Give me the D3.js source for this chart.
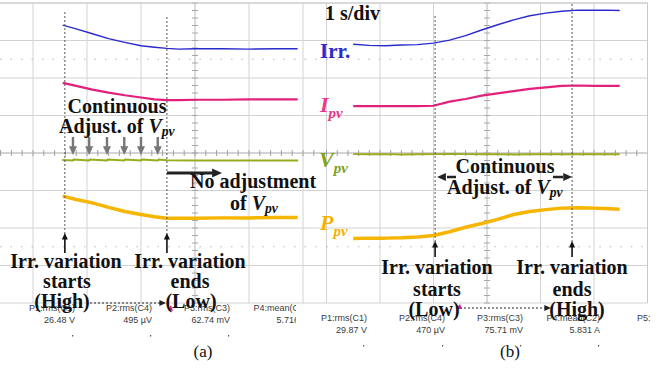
<!DOCTYPE html>
<html><head><meta charset="utf-8">
<script src="https://cdn.jsdelivr.net/npm/d3@7"></script>
<style>html,body{margin:0;padding:0;background:#fff;}svg{display:block;}</style>
</head><body><svg id="c" width="665" height="370"></svg>
<script>
// ---- data (time in s, 1 s/div; trace values in screen divisions) ----
const tA   = [-2.45,-2.2,-1.9,-1.6,-1.3,-1.0,-0.75,-0.52,-0.3,0,0.5,1.0,1.5,1.9];
const irrA = [3.41,3.31,3.18,3.05,2.95,2.86,2.82,2.79,2.77,2.78,2.78,2.77,2.78,2.78];
const ipvA = [1.87,1.79,1.69,1.61,1.54,1.48,1.43,1.41,1.41,1.42,1.42,1.43,1.43,1.43];
const ppvA = [-1.15,-1.24,-1.33,-1.45,-1.56,-1.64,-1.70,-1.74,-1.74,-1.74,-1.73,-1.73,-1.72,-1.72];
const tVA  = [-2.46,-2.26,-2.25,-1.96,-1.95,-1.63,-1.62,-1.31,-1.30,-1.00,-0.99,-0.69,-0.68,-0.52,0,0.5,1.0,1.5,1.91];
const vpvA = [-0.187,-0.203,-0.171,-0.203,-0.171,-0.203,-0.171,-0.203,-0.171,-0.203,-0.171,-0.203,-0.176,-0.195,-0.203,-0.2,-0.203,-0.197,-0.2];

const tB   = [-2.5,-2.2,-1.9,-1.6,-1.3,-1.0,-0.7,-0.4,-0.1,0.2,0.5,0.8,1.1,1.4,1.7,2.0,2.2,2.48];
const irrB = [2.90,2.87,2.86,2.88,2.89,2.93,3.01,3.13,3.28,3.42,3.55,3.66,3.73,3.78,3.81,3.81,3.81,3.80];
const ipvB = [1.25,1.25,1.25,1.25,1.25,1.26,1.37,1.44,1.53,1.59,1.65,1.71,1.75,1.79,1.80,1.79,1.79,1.79];
const vpvB = [-0.03,-0.035,-0.03,-0.04,-0.035,-0.03,-0.025,-0.03,-0.035,-0.03,-0.04,-0.035,-0.03,-0.035,-0.03,-0.035,-0.03,-0.035];
const ppvB = [-2.28,-2.27,-2.27,-2.26,-2.24,-2.20,-2.10,-1.98,-1.88,-1.77,-1.64,-1.56,-1.51,-1.47,-1.46,-1.47,-1.48,-1.50];

const eventsA = [-2.41,-0.52];
const eventsB = [-0.97,1.59];
const adjustMarksA = [-2.26,-1.96,-1.63,-1.31,-1.0,-0.69];

const measLabelsA = ["P1:rms(C1)","P2:rms(C4)","P3:rms(C3)","P4:mean(C2)"];
const measValuesA = ["26.48 V","495 µV","62.74 mV","5.716 A"];
const measLabelsB = ["P1:rms(C1)","P2:rms(C4)","P3:rms(C3)","P4:mean(C2)"];
const measValuesB = ["29.87 V","470 µV","75.71 mV","5.831 A"];

const seriesNames = ["Irr.","I","V","P"];
const colors = {irr:"#2a2acc", ipv:"#e2207c", vpv:"#9aab1d", ppv:"#f5b500"};

// ---- drawing ----
const svg = d3.select("#c");
const y = d3.scaleLinear().domain([-4,4]).range([303,3]);
const xA = d3.scaleLinear().domain([-5,5]).range([195-270,195+270]);
const xB = d3.scaleLinear().domain([-5,5]).range([487-267.5,487+267.5]);

const defs = svg.append("defs");
defs.append("clipPath").attr("id","clipA").append("rect").attr("x",0).attr("y",0).attr("width",321).attr("height",304);
defs.append("clipPath").attr("id","clipB").append("rect").attr("x",321).attr("y",0).attr("width",328).attr("height",304);
defs.append("clipPath").attr("id","clipMA").append("rect").attr("x",0).attr("y",300).attr("width",296).attr("height",50);

function grid(g, x, tmin, tmax){
  const gl = g.append("g");
  // horizontal lines
  d3.range(-4,5).forEach(v=>{
    gl.append("line").attr("x1",x(tmin)).attr("x2",x(tmax)).attr("y1",y(v)).attr("y2",y(v))
      .attr("stroke", v===0?"#a8a8a8":"#d2d2d2").attr("stroke-width",1);
  });
  // vertical lines
  d3.range(-5,6).forEach(t=>{
    gl.append("line").attr("x1",x(t)).attr("x2",x(t)).attr("y1",y(4)).attr("y2",y(-4))
      .attr("stroke", t===0?"#b8b8b8":"#d2d2d2").attr("stroke-width",1);
  });
  // dotted rows at +-2.5 div
  [2.5,-2.5].forEach(v=>{
    gl.append("line").attr("x1",x(tmin)).attr("x2",x(tmax)).attr("y1",y(v)).attr("y2",y(v))
      .attr("stroke","#b8b8b8").attr("stroke-width",1).attr("stroke-dasharray","1.5,9");
  });
  // minor ticks on centre lines
  d3.range(tmin*5, tmax*5+1).forEach(i=>{
    const t=i/5;
    gl.append("line").attr("x1",x(t)).attr("x2",x(t)).attr("y1",y(0)-3).attr("y2",y(0)+3).attr("stroke","#a0a0a0");
  });
  d3.range(-20,21).forEach(i=>{
    const v=i/5;
    gl.append("line").attr("x1",x(0)-3).attr("x2",x(0)+3).attr("y1",y(v)).attr("y2",y(v)).attr("stroke","#a8a8a8");
  });
}

const gA = svg.append("g").attr("clip-path","url(#clipA)");
const gB = svg.append("g").attr("clip-path","url(#clipB)");
grid(gA, xA, -4, 2.4);
grid(gB, xB, -3.2, 3);
// borders
svg.append("line").attr("x1",0).attr("x2",xB(3)).attr("y1",y(4)).attr("y2",y(4)).attr("stroke","#c8c8c8");
svg.append("line").attr("x1",xB(3)).attr("x2",xB(3)).attr("y1",y(4)).attr("y2",y(-4)).attr("stroke","#c8c8c8");

function trace(g, x, ts, vs, color, w){
  const line = d3.line().x((d,i)=>x(ts[i])).y(d=>y(d)).curve(d3.curveLinear);
  g.append("path").datum(vs).attr("d",line).attr("fill","none").attr("stroke",color)
   .attr("stroke-width",w).attr("stroke-linejoin","round");
}

// event dotted lines
function eventLine(x, t, top, bottom){
  svg.append("line").attr("x1",x(t)).attr("x2",x(t)).attr("y1",top).attr("y2",bottom)
    .attr("stroke","#555").attr("stroke-width",1).attr("stroke-dasharray","2,2");
}
eventLine(xA, eventsA[0], 12, 236);
eventLine(xA, eventsA[1], 17, 236);
eventLine(xB, eventsB[0], 16, 243);
eventLine(xB, eventsB[1], 4, 243);

trace(gA, xA, tA, irrA, colors.irr, 1.5);
trace(gA, xA, tA, ipvA, colors.ipv, 2.2);
trace(gA, xA, tVA, vpvA, colors.vpv, 2);
trace(gA, xA, tA, ppvA, colors.ppv, 3.5);
trace(gB, xB, tB, irrB, colors.irr, 1.5);
trace(gB, xB, tB, ipvB, colors.ipv, 2.2);
trace(gB, xB, tB, vpvB, colors.vpv, 2);
trace(gB, xB, tB, ppvB, colors.ppv, 3.5);

// arrows
function arrowHead(x, yv, dir, size, color){
  // dir: 'up','down','left','right'
  const s=size, h=size*1.1;
  let pts;
  if(dir==='up') pts=[[x,yv],[x-s/2,yv+h],[x+s/2,yv+h]];
  if(dir==='down') pts=[[x,yv],[x-s/2,yv-h],[x+s/2,yv-h]];
  if(dir==='right') pts=[[x,yv],[x-h,yv-s/2],[x-h,yv+s/2]];
  if(dir==='left') pts=[[x,yv],[x+h,yv-s/2],[x+h,yv+s/2]];
  svg.append("polygon").attr("points",pts.map(p=>p.join(",")).join(" ")).attr("fill",color);
}
function vArrowUp(x, tip, base){
  svg.append("line").attr("x1",x).attr("x2",x).attr("y1",tip+4).attr("y2",base).attr("stroke","#111").attr("stroke-width",1.6);
  arrowHead(x, tip, 'up', 6, "#111");
}
vArrowUp(xA(eventsA[0]), 233, 253);
vArrowUp(xA(eventsA[1]), 233, 253);
vArrowUp(xB(eventsB[0]), 241, 257);
vArrowUp(xB(eventsB[1]), 241, 257);

// gray adjustment arrows
adjustMarksA.forEach(t=>{
  svg.append("line").attr("x1",xA(t)).attr("x2",xA(t)).attr("y1",137).attr("y2",148).attr("stroke","#777").attr("stroke-width",2.4);
  arrowHead(xA(t), 155, 'down', 8, "#777");
});

// black horizontal arrows
svg.append("line").attr("x1",xA(eventsA[1])).attr("x2",213).attr("y1",173).attr("y2",173).attr("stroke","#222").attr("stroke-width",3);
arrowHead(222, 173, 'right', 9, "#222");
svg.append("line").attr("x1",447).attr("x2",456).attr("y1",177).attr("y2",177).attr("stroke","#222").attr("stroke-width",2.5);
arrowHead(xB(eventsB[0])+2, 177, 'left', 8, "#222");
svg.append("line").attr("x1",553).attr("x2",563).attr("y1",177).attr("y2",177).attr("stroke","#222").attr("stroke-width",2.5);
arrowHead(xB(eventsB[1]), 177, 'right', 8, "#222");

// dotted bottom arrows
svg.append("line").attr("x1",90).attr("x2",160).attr("y1",303).attr("y2",303).attr("stroke","#222").attr("stroke-width",1.2).attr("stroke-dasharray","2,2");
arrowHead(166, 303, 'right', 6, "#222");
svg.append("line").attr("x1",460).attr("x2",545).attr("y1",308).attr("y2",308).attr("stroke","#222").attr("stroke-width",1.2).attr("stroke-dasharray","2,2");
arrowHead(551, 308, 'right', 6, "#222");
// tiny pink markers
svg.append("polygon").attr("points","456,309 460,304 462,309").attr("fill","#e0207a");
svg.append("polygon").attr("points","168,310 171,305 173,311").attr("fill","#e0207a");

// measurement rows
const mA = svg.append("g").attr("clip-path","url(#clipMA)");
const colA = [75,152,230,307], colB=[367,445,523,600];
measLabelsA.forEach((l,i)=>{
  mA.append("text").attr("x",colA[i]).attr("y",311).attr("text-anchor","end").text(l);
  mA.append("text").attr("x",colA[i]).attr("y",323).attr("text-anchor","end").text(measValuesA[i]);
});
measLabelsB.forEach((l,i)=>{
  svg.append("text").attr("x",colB[i]).attr("y",321).attr("text-anchor","end").text(l);
  svg.append("text").attr("x",colB[i]).attr("y",333).attr("text-anchor","end").text(measValuesB[i]);
});
svg.append("text").attr("x",637).attr("y",321).text("P5:");
svg.selectAll("text").attr("font-family","Liberation Sans, Arial, sans-serif").attr("font-size",9).attr("fill","#3a3a3a");
mA.selectAll("text").attr("font-family","Liberation Sans, Arial, sans-serif").attr("font-size",9).attr("fill","#3a3a3a");
// tiny dots under values
[72,150,228].forEach(x=>svg.append("rect").attr("x",x).attr("y",335).attr("width",1.2).attr("height",1.5).attr("fill","#555"));
[363,442,520,598].forEach(x=>svg.append("rect").attr("x",x).attr("y",345).attr("width",1.2).attr("height",1.5).attr("fill","#555"));

// ---- annotation text ----
const SERIF = "Liberation Serif, Times New Roman, serif";
function txt(x, yv, str, opt={}){
  const t = svg.append("text").attr("x",x).attr("y",yv).attr("font-family",SERIF)
    .attr("font-size",opt.size||20).attr("font-weight",opt.weight||"bold")
    .attr("fill",opt.color||"#111").attr("text-anchor",opt.anchor||"start");
  if(opt.italic) t.attr("font-style","italic");
  t.text(str);
  return t;
}
function withSub(x, yv, pre, main, sub, opt={}){
  const t = svg.append("text").attr("x",x).attr("y",yv).attr("font-family",SERIF)
    .attr("font-size",opt.size||20).attr("font-weight","bold")
    .attr("fill",opt.color||"#111").attr("text-anchor",opt.anchor||"start");
  if(pre) t.append("tspan").text(pre);
  t.append("tspan").attr("font-style","italic").text(main);
  t.append("tspan").attr("font-style","italic").attr("font-size",(opt.size||20)*0.68).attr("dy",opt.subDy||4).text(sub);
  return t;
}

txt(325, 20, "1 s/div", {size:20});
txt(320, 58, seriesNames[0], {size:21, color:colors.irr});
withSub(320, 112, "", seriesNames[1], "pv", {size:22, color:"#e8378d", subDy:6});
withSub(319, 167, "", seriesNames[2], "pv", {size:22, color:"#7fa11e", subDy:6});
withSub(320, 230, "", seriesNames[3], "pv", {size:22, color:"#f5b100", subDy:6});

// panel a notes
txt(117, 113, "Continuous", {anchor:"middle"});
withSub(59, 133, "Adjust. of ", "V", "pv", {subDy:3});
txt(190, 188, "No adjustment");
withSub(230, 210, "of ", "V", "pv", {subDy:3});
txt(66, 268, "Irr. variation", {anchor:"middle"});
txt(67, 288, "starts", {anchor:"middle"});
txt(62, 308, "(High)", {anchor:"middle"});
txt(190, 268, "Irr. variation", {anchor:"middle"});
txt(190, 288, "ends", {anchor:"middle"});
txt(191, 308, "(Low)", {anchor:"middle"});

// panel b notes
txt(505, 173, "Continuous", {anchor:"middle"});
withSub(447, 194, "Adjust. of ", "V", "pv", {subDy:3});
txt(437, 274, "Irr. variation", {anchor:"middle"});
txt(437, 296, "starts", {anchor:"middle"});
txt(434, 316, "(Low)", {anchor:"middle"});
txt(572, 274, "Irr. variation", {anchor:"middle"});
txt(572, 296, "ends", {anchor:"middle"});
txt(577, 316, "(High)", {anchor:"middle"});

// captions
txt(203, 357, "(a)", {size:17, weight:"normal"});
svg.selectAll("text").filter(function(){return d3.select(this).text()==="(a)";}).attr("text-anchor","middle");
txt(510, 357, "(b)", {size:17, weight:"normal", anchor:"middle"});
</script>
</body></html>
